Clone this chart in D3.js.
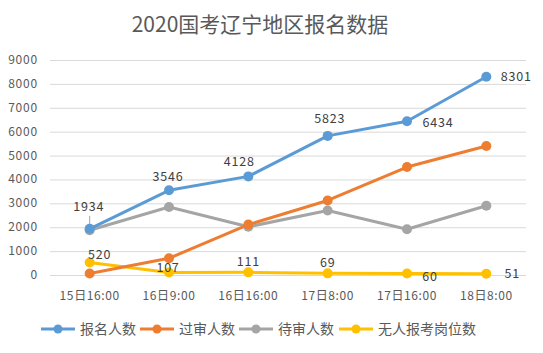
<!DOCTYPE html>
<html>
<head>
<meta charset="utf-8">
<script src="https://cdn.jsdelivr.net/npm/d3@7"></script>
<style>
  body { margin: 0; background: #fff; }
  text { font-family: "Noto Sans CJK SC", "Noto Sans", sans-serif; }
</style>
</head>
<body>
<div id="chart"></div>
<script>
const categories = ["15日16:00", "16日9:00", "16日16:00", "17日8:00", "17日16:00", "18日8:00"];
const baoming = [1934, 3546, 4128, 5823, 6434, 8301];
const guoshen = [60, 700, 2110, 3120, 4520, 5400];
const daishen = [1874, 2846, 2018, 2703, 1914, 2901];
const wuren = [520, 107, 111, 69, 60, 51];
const yTicks = [0, 1000, 2000, 3000, 4000, 5000, 6000, 7000, 8000, 9000];

const series = [
  {name: "报名人数", values: baoming, color: "#5B9BD5"},
  {name: "过审人数", values: guoshen, color: "#ED7D31"},
  {name: "待审人数", values: daishen, color: "#A5A5A5"},
  {name: "无人报考岗位数", values: wuren, color: "#FFC000"}
];

// label offsets (dx, dy) relative to the point, for labelled series
const blueLabelPos = [[-1, -22], [-1, -14], [-9, -15], [2, -17], [31, 1], [30, 0]];
const yellowLabelPos = [[10, -8], [-1, -5], [0, -11], [0, -11], [23, 3], [26, 0]];

const width = 543, height = 353;
const margin = {top: 60, right: 17, bottom: 78, left: 50};

const svg = d3.select("#chart").append("svg")
  .attr("width", width)
  .attr("height", height);

const x = d3.scaleBand()
  .domain(categories)
  .range([margin.left, width - margin.right]);

const y = d3.scaleLinear()
  .domain([0, 9000])
  .range([height - margin.bottom, margin.top]);

const cx = d => x(d) + x.bandwidth() / 2;

svg.append("text")
  .attr("x", 260)
  .attr("y", 32)
  .attr("text-anchor", "middle")
  .attr("font-size", 21)
  .attr("fill", "#595959")
  .text("2020国考辽宁地区报名数据");

// gridlines
svg.append("g")
  .selectAll("line")
  .data(yTicks)
  .join("line")
  .attr("x1", margin.left)
  .attr("x2", width - margin.right)
  .attr("y1", d => y(d) + 0.5)
  .attr("y2", d => y(d) + 0.5)
  .attr("stroke", "#d9d9d9")
  .attr("stroke-width", 1);

// y axis labels
svg.append("g")
  .selectAll("text")
  .data(yTicks)
  .join("text")
  .attr("x", 38)
  .attr("y", d => y(d) + 4)
  .attr("text-anchor", "end")
  .attr("font-size", 12)
  .attr("letter-spacing", 0.8)
  .attr("fill", "#595959")
  .text(d => d);

// x axis labels
svg.append("g")
  .selectAll("text")
  .data(categories)
  .join("text")
  .attr("x", d => cx(d))
  .attr("y", 300)
  .attr("text-anchor", "middle")
  .attr("font-size", 12)
  .attr("letter-spacing", 0.6)
  .attr("fill", "#595959")
  .text(d => d);

const line = d3.line()
  .x((d, i) => cx(categories[i]))
  .y(d => y(d));

// leader line for first label
svg.append("line")
  .attr("x1", cx(categories[0]))
  .attr("x2", cx(categories[0]))
  .attr("y1", y(baoming[0]) - 13)
  .attr("y2", y(baoming[0]) - 3)
  .attr("stroke", "#a6a6a6")
  .attr("stroke-width", 1);

// draw in reverse order so blue is on top
series.slice().reverse().forEach(s => {
  const g = svg.append("g");
  g.append("path")
    .datum(s.values)
    .attr("d", line)
    .attr("fill", "none")
    .attr("stroke", s.color)
    .attr("stroke-width", 3)
    .attr("stroke-linejoin", "round");
  g.selectAll("circle")
    .data(s.values)
    .join("circle")
    .attr("cx", (d, i) => cx(categories[i]))
    .attr("cy", d => y(d))
    .attr("r", 5)
    .attr("fill", s.color);
});

function addLabels(values, pos) {
  svg.append("g")
    .selectAll("text")
    .data(values)
    .join("text")
    .attr("x", (d, i) => cx(categories[i]) + pos[i][0])
    .attr("y", (d, i) => y(d) + pos[i][1] + 4.5)
    .attr("text-anchor", "middle")
    .attr("font-size", 12.5)
    .attr("letter-spacing", 0.8)
    .attr("fill", "#404040")
    .text(d => d);
}
addLabels(baoming, blueLabelPos);
addLabels(wuren, yellowLabelPos);

// legend
const legendX = [41, 140, 239, 339];
const legend = svg.append("g")
  .selectAll("g")
  .data(series)
  .join("g")
  .attr("transform", (d, i) => `translate(${legendX[i]},329)`);
legend.append("line")
  .attr("x1", 0).attr("x2", 34)
  .attr("stroke", d => d.color)
  .attr("stroke-width", 3);
legend.append("circle")
  .attr("cx", 17)
  .attr("r", 4.5)
  .attr("fill", d => d.color);
legend.append("text")
  .attr("x", 39)
  .attr("y", 5)
  .attr("font-size", 14)
  .attr("fill", "#595959")
  .text(d => d.name);
</script>
</body>
</html>
